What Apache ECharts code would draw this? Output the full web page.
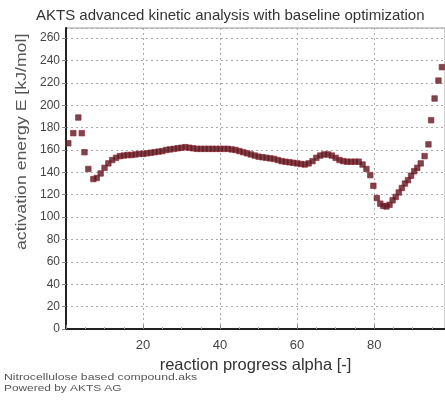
<!DOCTYPE html>
<html><head><meta charset="utf-8">
<script src="https://cdn.jsdelivr.net/npm/echarts@6/dist/echarts.min.js"></script>
<style>html,body{margin:0;padding:0;background:#fff}#c{width:445px;height:401px}</style>
</head><body><div id="c"></div>
<script>
var titleText = 'AKTS advanced kinetic analysis with baseline optimization';
var xName = 'reaction progress alpha [-]';
var yName = 'activation energy E [kJ/mol]';
var footer1 = 'Nitrocellulose based compound.aks';
var footer2 = 'Powered by AKTS AG';

var alpha = [0.6, 1.9, 3.2, 4.1, 4.8, 5.8, 7.1, 8.0, 9.0, 10, 11, 12, 13, 14, 15, 16, 17, 18, 19, 20,
  21, 22, 23, 24, 25, 26, 27, 28, 29, 30, 31, 32, 33, 34, 35, 36, 37, 38, 39, 40,
  41, 42, 43, 44, 45, 46, 47, 48, 49, 50, 51, 52, 53, 54, 55, 56, 57, 58, 59, 60,
  61, 62, 63, 64, 65, 66, 67, 68, 69, 70, 71, 72, 73, 74, 75, 76, 77, 78, 79,
  79.8, 80.7, 81.6, 82.4, 83.2, 84.0, 84.8, 85.6, 86.4, 87.2, 88.0, 88.8, 89.6, 90.4, 91.2,
  92.1, 93.1, 94.1, 94.8, 95.7, 96.7, 97.6];
var energy = [166, 175, 189, 175, 158, 143, 134, 135, 139, 144, 148, 151, 153, 154.5, 155, 155.5, 155.5, 156, 156.5, 156.5,
  157, 157.5, 158, 158.5, 159, 160, 160.5, 161, 161.5, 162, 162.5, 162, 161.5, 161, 161, 161, 161, 161, 161, 161,
  161, 161, 160.5, 160, 159, 158, 157, 156, 155, 154, 153.5, 153, 152.5, 152, 151, 150, 149.5, 149, 148.5, 148,
  147.5, 147, 148, 150, 153, 155, 156, 156, 155, 153, 151, 150, 149.5, 149.5, 149.5, 149.5, 147, 143, 137.5,
  128, 117, 112, 110, 109.5, 111, 115, 118, 122, 126, 130, 133, 137, 141, 144,
  148, 154.5, 165, 186.6, 206, 222, 234];

var pts = alpha.map(function (a, i) { return [a, energy[i]]; });

var chart = echarts.init(document.getElementById('c'));
chart.setOption({
  animation: false,
  backgroundColor: '#fff',
  title: {
    text: titleText, left: 31, top: 3,
    textStyle: { fontFamily: 'Liberation Sans', fontSize: 15, fontWeight: 'normal', color: '#333' }
  },
  grid: { left: 66, top: 28, right: -2, bottom: 72, show: true, borderColor: '#999', borderWidth: 1, backgroundColor: '#fff' },
  xAxis: {
    type: 'value', min: 0, max: 98.4, interval: 20,
    name: xName, nameLocation: 'middle', nameGap: 25,
    nameTextStyle: { fontFamily: 'Liberation Sans', fontSize: 16.5, color: '#333' },
    axisLine: { show: true, onZero: false, lineStyle: { color: '#222', width: 2 } },
    axisTick: { show: true, inside: true, length: 4, lineStyle: { color: '#888' } },
    minorTick: { show: true, splitNumber: 4, length: 2, lineStyle: { color: '#aaa' } },
    axisLabel: { showMinLabel: false, showMaxLabel: false, margin: 10, fontFamily: 'Liberation Sans', fontSize: 13, color: '#444' },
    splitLine: { show: true, lineStyle: { color: '#aaa', type: [2, 3], width: 1 } }
  },
  yAxis: {
    type: 'value', min: 0, max: 269, interval: 20,
    axisLine: { show: true, lineStyle: { color: '#222', width: 2 } },
    axisTick: { show: true, length: 4, lineStyle: { color: '#888' } },
    axisLabel: { showMaxLabel: false, margin: 6, fontFamily: 'Liberation Sans', fontSize: 12, color: '#444' },
    splitLine: { show: true, lineStyle: { color: '#aaa', type: [2, 3], width: 1 } }
  },
  graphic: [
    { type: 'text', x: 14, y: 250, rotation: Math.PI / 2, scaleX: 1.22, z: 10,
      style: { text: yName, fontFamily: 'Liberation Sans', fontSize: 14.5, fill: '#555' } },
    { type: 'text', x: 4, y: 373, scaleX: 1.36,
      style: { text: footer1, fontFamily: 'Liberation Sans', fontSize: 9, fill: '#555' } },
    { type: 'text', x: 4, y: 384, scaleX: 1.32,
      style: { text: footer2, fontFamily: 'Liberation Sans', fontSize: 9, fill: '#555' } }
  ],
  series: [{
    type: 'scatter', data: pts, symbol: 'rect', symbolSize: 5.5,
    itemStyle: { color: '#5a1820', borderColor: '#8e2430', borderWidth: 0.8 }
  }]
});
</script></body></html>
